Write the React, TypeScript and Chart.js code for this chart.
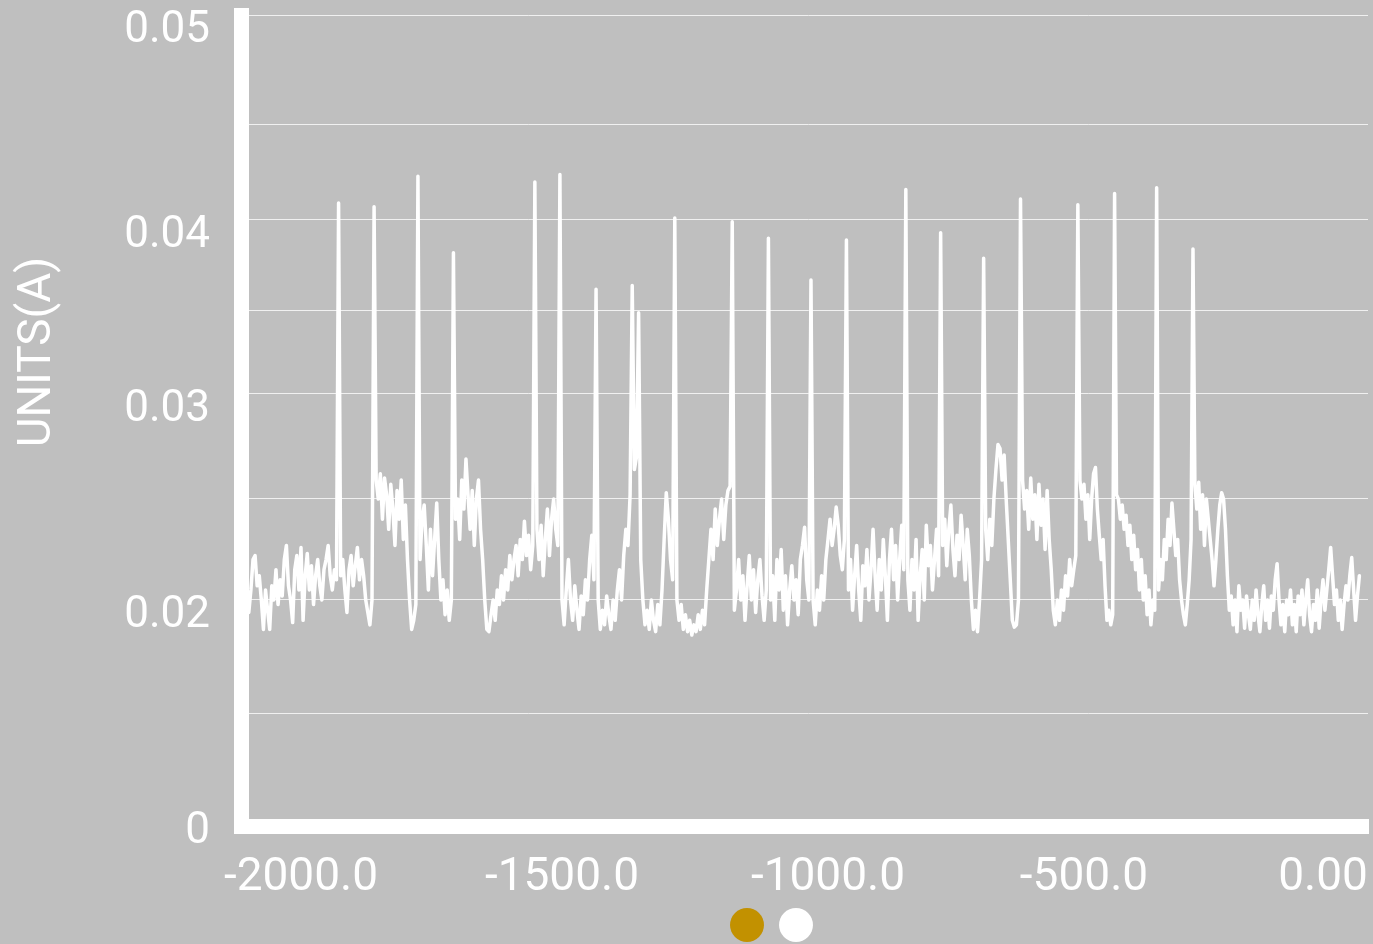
import React, { useEffect, useRef } from 'react';
import { Chart, LinearScale, registerables } from 'chart.js';

// ---------------- data ----------------
const SERIES_NAMES = ['Reference', 'Current'];
const SERIES_COLORS = ['#c29100', '#ffffff'];
const Y_TITLE = 'UNITS(A)';

// time axis: uniform sampling
const X_START = -2100;
const X_STEP = 4;

// gold series has no visible samples in the picture
const REFERENCE_VALUES: number[] = [];

// measured current (A)
const CURRENT_VALUES = [
  0.0189, 0.0205, 0.0220, 0.0222, 0.0207, 0.0212, 0.0200, 0.0174, 0.0205, 0.0191,
  0.0174, 0.0207, 0.0200, 0.0215, 0.0196, 0.0210, 0.0202, 0.0220, 0.0227, 0.0207,
  0.0200, 0.0180, 0.0215, 0.0222, 0.0205, 0.0226, 0.0182, 0.0212, 0.0223, 0.0205,
  0.0217, 0.0196, 0.0212, 0.0220, 0.0207, 0.0200, 0.0215, 0.0220, 0.0227, 0.0212,
  0.0205, 0.0215, 0.0210, 0.0409, 0.0212, 0.0220, 0.0205, 0.0189, 0.0215, 0.0222,
  0.0207, 0.0217, 0.0226, 0.0210, 0.0220, 0.0212, 0.0200, 0.0189, 0.0178, 0.0200,
  0.0407, 0.0259, 0.0250, 0.0262, 0.0240, 0.0260, 0.0252, 0.0235, 0.0257, 0.0245,
  0.0227, 0.0254, 0.0240, 0.0259, 0.0230, 0.0247, 0.0220, 0.0200, 0.0174, 0.0182,
  0.0196, 0.0423, 0.0220, 0.0240, 0.0247, 0.0227, 0.0205, 0.0235, 0.0212, 0.0230,
  0.0248, 0.0220, 0.0200, 0.0210, 0.0187, 0.0205, 0.0182, 0.0200, 0.0382, 0.0240,
  0.0250, 0.0230, 0.0259, 0.0245, 0.0269, 0.0252, 0.0235, 0.0254, 0.0227, 0.0250,
  0.0259, 0.0235, 0.0220, 0.0200, 0.0174, 0.0172, 0.0187, 0.0200, 0.0182, 0.0205,
  0.0196, 0.0212, 0.0200, 0.0215, 0.0205, 0.0222, 0.0210, 0.0220, 0.0227, 0.0212,
  0.0230, 0.0220, 0.0239, 0.0222, 0.0232, 0.0215, 0.0227, 0.0420, 0.0235, 0.0220,
  0.0237, 0.0212, 0.0230, 0.0245, 0.0222, 0.0240, 0.0250, 0.0235, 0.0227, 0.0424,
  0.0200, 0.0178, 0.0205, 0.0220, 0.0200, 0.0182, 0.0207, 0.0191, 0.0174, 0.0202,
  0.0187, 0.0210, 0.0200, 0.0220, 0.0232, 0.0210, 0.0362, 0.0200, 0.0174, 0.0191,
  0.0178, 0.0202, 0.0187, 0.0174, 0.0200, 0.0182, 0.0205, 0.0215, 0.0200, 0.0222,
  0.0235, 0.0227, 0.0252, 0.0364, 0.0264, 0.0270, 0.0349, 0.0220, 0.0200, 0.0178,
  0.0191, 0.0174, 0.0200, 0.0182, 0.0172, 0.0196, 0.0178, 0.0205, 0.0230, 0.0253,
  0.0240, 0.0220, 0.0210, 0.0401, 0.0200, 0.0182, 0.0196, 0.0174, 0.0187, 0.0172,
  0.0182, 0.0169, 0.0178, 0.0172, 0.0187, 0.0174, 0.0191, 0.0178, 0.0205, 0.0220,
  0.0235, 0.0220, 0.0245, 0.0227, 0.0240, 0.0250, 0.0230, 0.0247, 0.0254, 0.0256,
  0.0399, 0.0191, 0.0205, 0.0220, 0.0200, 0.0212, 0.0182, 0.0207, 0.0222, 0.0200,
  0.0215, 0.0189, 0.0210, 0.0220, 0.0202, 0.0182, 0.0205, 0.0390, 0.0200, 0.0212,
  0.0182, 0.0220, 0.0205, 0.0225, 0.0191, 0.0212, 0.0178, 0.0205, 0.0217, 0.0200,
  0.0210, 0.0187, 0.0220, 0.0227, 0.0236, 0.0210, 0.0200, 0.0367, 0.0200, 0.0178,
  0.0205, 0.0191, 0.0212, 0.0200, 0.0220, 0.0230, 0.0240, 0.0227, 0.0235, 0.0246,
  0.0237, 0.0222, 0.0215, 0.0230, 0.0389, 0.0205, 0.0220, 0.0191, 0.0212, 0.0227,
  0.0205, 0.0182, 0.0217, 0.0207, 0.0225, 0.0200, 0.0215, 0.0235, 0.0212, 0.0191,
  0.0220, 0.0205, 0.0230, 0.0212, 0.0182, 0.0220, 0.0235, 0.0210, 0.0227, 0.0200,
  0.0220, 0.0237, 0.0215, 0.0416, 0.0210, 0.0191, 0.0220, 0.0205, 0.0230, 0.0182,
  0.0212, 0.0225, 0.0200, 0.0237, 0.0217, 0.0227, 0.0205, 0.0220, 0.0235, 0.0212,
  0.0393, 0.0227, 0.0240, 0.0217, 0.0235, 0.0247, 0.0225, 0.0212, 0.0232, 0.0220,
  0.0242, 0.0227, 0.0210, 0.0235, 0.0222, 0.0200, 0.0174, 0.0191, 0.0172, 0.0200,
  0.0220, 0.0379, 0.0235, 0.0220, 0.0240, 0.0227, 0.0250, 0.0264, 0.0276, 0.0274,
  0.0259, 0.0271, 0.0250, 0.0230, 0.0210, 0.0182, 0.0176, 0.0178, 0.0200, 0.0411,
  0.0259, 0.0245, 0.0254, 0.0235, 0.0260, 0.0240, 0.0252, 0.0230, 0.0257, 0.0237,
  0.0250, 0.0225, 0.0254, 0.0230, 0.0215, 0.0191, 0.0178, 0.0200, 0.0182, 0.0205,
  0.0191, 0.0212, 0.0202, 0.0220, 0.0207, 0.0215, 0.0222, 0.0408, 0.0259, 0.0250,
  0.0257, 0.0240, 0.0252, 0.0230, 0.0250, 0.0262, 0.0265, 0.0245, 0.0232, 0.0220,
  0.0230, 0.0207, 0.0182, 0.0191, 0.0178, 0.0187, 0.0414, 0.0252, 0.0250, 0.0240,
  0.0247, 0.0235, 0.0242, 0.0227, 0.0237, 0.0220, 0.0232, 0.0215, 0.0225, 0.0205,
  0.0220, 0.0200, 0.0212, 0.0187, 0.0205, 0.0178, 0.0200, 0.0191, 0.0417, 0.0205,
  0.0220, 0.0210, 0.0230, 0.0220, 0.0240, 0.0227, 0.0248, 0.0235, 0.0222, 0.0230,
  0.0210, 0.0200, 0.0187, 0.0178, 0.0196, 0.0210, 0.0230, 0.0384, 0.0257, 0.0245,
  0.0258, 0.0235, 0.0252, 0.0227, 0.0250, 0.0240, 0.0230, 0.0220, 0.0207, 0.0220,
  0.0235, 0.0247, 0.0253, 0.0250, 0.0235, 0.0212, 0.0191, 0.0202, 0.0178, 0.0200,
  0.0172, 0.0207, 0.0191, 0.0200, 0.0175, 0.0202, 0.0187, 0.0174, 0.0200, 0.0182,
  0.0205, 0.0187, 0.0172, 0.0196, 0.0207, 0.0182, 0.0200, 0.0175, 0.0202, 0.0191,
  0.0210, 0.0218, 0.0200, 0.0178, 0.0196, 0.0172, 0.0200, 0.0187, 0.0205, 0.0178,
  0.0196, 0.0172, 0.0202, 0.0187, 0.0205, 0.0178, 0.0200, 0.0210, 0.0187, 0.0172,
  0.0196, 0.0182, 0.0205, 0.0175, 0.0200, 0.0210, 0.0191, 0.0205, 0.0215, 0.0226,
  0.0212, 0.0196, 0.0205, 0.0182, 0.0200, 0.0174, 0.0196, 0.0207, 0.0200, 0.0212,
  0.0221, 0.0205, 0.0182, 0.0202, 0.0212,
];

const X_TICKS = [-2000, -1500, -1000, -500, 0];
const X_TICK_LABELS = ['-2000.0', '-1500.0', '-1000.0', '-500.0', '0.00'];
const Y_TICKS = [0, 0.01, 0.02, 0.025, 0.03, 0.035, 0.04, 0.045, 0.05];
const Y_TICK_LABELS = ['0', '', '0.02', '', '0.03', '', '0.04', '', '0.05'];

// ---------------- axis geometry (value -> fraction of axis length) ----------------
const X_AXIS_STOPS = [
  [-2115, 0], [-2000, 0.05324], [-1500, 0.28483], [-1000, 0.52085],
  [-500, 0.748], [0, 0.96007], [94, 1],
];
const Y_AXIS_STOPS = [
  [-0.0009, 0], [0, 0.01233], [0.01, 0.13933], [0.02, 0.27867], [0.025, 0.40321],
  [0.03, 0.53268], [0.035, 0.63502], [0.04, 0.74723], [0.045, 0.86437], [0.05, 1],
];
const STOPS: Record<string, number[][]> = { x: X_AXIS_STOPS, y: Y_AXIS_STOPS };

const BG = '#bfbfbf';
const FONT = 'Roboto';
const W = 1373;
const H = 944;
const LAYOUT_PAD = { left: 0, right: 5, top: 15, bottom: 0 };
const PLOT_LEFT = 241;
const PLOT_BOTTOM = 826;
const LEGEND_DX = 93.5;
const LEGEND_DY = 3;

function interp(stops: number[][], v: number, from: number, to: number) {
  const n = stops.length;
  let j = 0;
  while (j < n - 2 && v > stops[j + 1][from]) j++;
  const a = stops[j];
  const b = stops[j + 1];
  const t = (v - a[from]) / (b[from] - a[from]);
  return a[to] + t * (b[to] - a[to]);
}

class PiecewiseScale extends LinearScale {
  static id = 'piecewise';
  static defaults = {};
  getPixelForValue(value: number) {
    const stops = STOPS[(this as any).id];
    return this.getPixelForDecimal(interp(stops, value, 0, 1));
  }
  getValueForPixel(pixel: number) {
    const stops = STOPS[(this as any).id];
    return interp(stops, this.getDecimalForPixel(pixel), 1, 0);
  }
}

Chart.register(...registerables, PiecewiseScale as any);

const yTitlePlugin = {
  id: 'yTitle',
  afterDraw(chart: any) {
    const ctx = chart.ctx;
    ctx.save();
    ctx.translate(50, 352);
    ctx.rotate(-Math.PI / 2);
    ctx.font = `46px ${FONT}`;
    ctx.fillStyle = '#ffffff';
    ctx.textAlign = 'center';
    ctx.textBaseline = 'alphabetic';
    ctx.fillText(Y_TITLE, 0, 0);
    ctx.restore();
  },
};

const legendOffsetPlugin = {
  id: 'legendOffset',
  afterLayout(chart: any) {
    const lg = chart.legend;
    if (!lg) return;
    lg.left += LEGEND_DX;
    lg.right += LEGEND_DX;
    lg.top += LEGEND_DY;
    lg.bottom += LEGEND_DY;
  },
};

export default function App() {
  const ref = useRef<HTMLCanvasElement>(null);

  useEffect(() => {
    document.body.style.margin = '0';
    document.body.style.background = BG;
    const points = CURRENT_VALUES.map((y, i) => ({ x: X_START + i * X_STEP, y }));
    const chart = new Chart(ref.current as HTMLCanvasElement, {
      type: 'line',
      data: {
        datasets: [
          {
            label: SERIES_NAMES[0],
            data: REFERENCE_VALUES as any,
            borderColor: SERIES_COLORS[0],
            backgroundColor: SERIES_COLORS[0],
            pointBackgroundColor: SERIES_COLORS[0],
            pointRadius: 0,
          },
          {
            label: SERIES_NAMES[1],
            data: points as any,
            borderColor: SERIES_COLORS[1],
            backgroundColor: SERIES_COLORS[1],
            pointBackgroundColor: SERIES_COLORS[1],
            borderWidth: 3.5,
            pointRadius: 0,
            tension: 0,
            borderJoinStyle: 'round',
            borderCapStyle: 'round',
          },
        ],
      },
      options: {
        animation: false,
        responsive: true,
        maintainAspectRatio: false,
        layout: { padding: LAYOUT_PAD },
        plugins: {
          tooltip: { enabled: false },
          legend: {
            position: 'bottom',
            labels: {
              usePointStyle: true,
              pointStyle: 'circle',
              boxWidth: 24,
              boxHeight: 24,
              padding: 13,
              font: { family: FONT, size: 24 },
              generateLabels: (c: any) =>
                (Chart.defaults.plugins.legend.labels.generateLabels as any)(c).map((l: any, i: number) => ({
                  ...l,
                  text: '',
                  lineWidth: 0,
                  fillStyle: SERIES_COLORS[i],
                  strokeStyle: SERIES_COLORS[i],
                })),
            },
          },
        },
        scales: {
          x: {
            type: 'piecewise' as any,
            min: X_AXIS_STOPS[0][0],
            max: X_AXIS_STOPS[X_AXIS_STOPS.length - 1][0],
            grid: { display: false, drawTicks: false },
            border: { display: true, color: '#ffffff', width: 15 },
            afterBuildTicks: (s: any) => {
              s.ticks = X_TICKS.map((v) => ({ value: v }));
            },
            afterFit: (s: any) => {
              const lh = s.chart.legend ? s.chart.legend.height : 0;
              s.height = H - LAYOUT_PAD.bottom - lh - PLOT_BOTTOM;
              s.paddingLeft = 0;
              s.paddingRight = 0;
              s.paddingTop = 0;
              s.paddingBottom = 0;
            },
            ticks: {
              autoSkip: false,
              maxRotation: 0,
              minRotation: 0,
              padding: 25,
              color: '#ffffff',
              font: { family: FONT, size: 46 },
              callback: (_v: any, i: number) => X_TICK_LABELS[i],
            },
          } as any,
          y: {
            type: 'piecewise' as any,
            min: Y_AXIS_STOPS[0][0],
            max: Y_AXIS_STOPS[Y_AXIS_STOPS.length - 1][0],
            grid: {
              display: true,
              drawTicks: false,
              lineWidth: 1,
              color: (ctx: any) => (ctx.tick && ctx.tick.value === 0 ? 'rgba(0,0,0,0)' : '#f0f0f0'),
            },
            border: { display: true, color: '#ffffff', width: 15 },
            afterBuildTicks: (s: any) => {
              s.ticks = Y_TICKS.map((v) => ({ value: v }));
            },
            afterFit: (s: any) => {
              s.width = PLOT_LEFT - LAYOUT_PAD.left;
              s.paddingLeft = 0;
              s.paddingRight = 0;
              s.paddingTop = 0;
              s.paddingBottom = 0;
            },
            ticks: {
              autoSkip: false,
              padding: 31,
              labelOffset: 16,
              color: '#ffffff',
              font: { family: FONT, size: 44 },
              callback: (_v: any, i: number) => Y_TICK_LABELS[i],
            },
          } as any,
        },
      },
      plugins: [yTitlePlugin, legendOffsetPlugin],
    });
    return () => chart.destroy();
  }, []);

  return (
    <div style={{ position: 'absolute', left: 0, top: 0, width: W, height: H, background: BG }}>
      <canvas ref={ref} />
    </div>
  );
}
